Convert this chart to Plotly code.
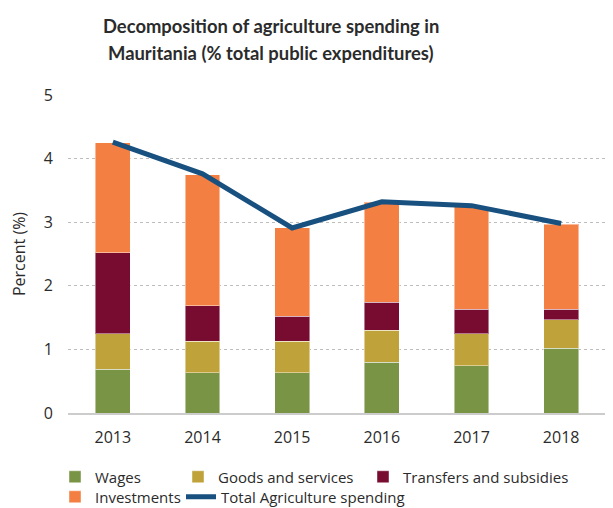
import plotly.graph_objects as go

years = ["2013", "2014", "2015", "2016", "2017", "2018"]
wages = [0.69, 0.63, 0.63, 0.80, 0.74, 1.02]
goods = [0.56, 0.50, 0.50, 0.50, 0.51, 0.45]
transfers = [1.27, 0.56, 0.39, 0.44, 0.38, 0.16]
investments = [1.73, 2.06, 1.39, 1.57, 1.61, 1.34]
total = [4.26, 3.76, 2.91, 3.32, 3.26, 2.98]
y_ticks = [0, 1, 2, 3, 4, 5]
title_lines = ["Decomposition of agriculture spending in",
               "Mauritania (% total public expenditures)"]

TFONT = "Lato"
FONT = "Open Sans"
TXT = "#2b2b2b"
W, H = 613, 508
OFF = 8  # page body offset
# plot area in page pixels
PL, PR, PT, PB = 68, 606, 95, 413
ML, MT = PL - OFF, PT - OFF
MR = W - (PR - OFF)
MB = H - (PB - OFF)

fig = go.Figure()
bar_line = dict(width=1, color="rgba(255,255,255,0.45)")
fig.add_bar(x=years, y=wages, name="Wages", marker=dict(color="#7A9445", line=bar_line), legend="legend")
fig.add_bar(x=years, y=goods, name="Goods and services", marker=dict(color="#BFA23A", line=bar_line), legend="legend2")
fig.add_bar(x=years, y=transfers, name="Transfers and subsidies", marker=dict(color="#770C30", line=bar_line), legend="legend3")
fig.add_bar(x=years, y=investments, name="Investments", marker=dict(color="#F47F42", line=bar_line), legend="legend4")
fig.add_scatter(x=years, y=total, name="Total Agriculture spending", mode="lines",
                line=dict(color="#18507F", width=5), legend="legend5")

def leg(xpx, ypx):
    return dict(x=xpx / W, y=1 - ypx / H, xref="container", yref="container",
                xanchor="left", yanchor="middle", orientation="h",
                font=dict(family=FONT, size=15, color=TXT), bgcolor="rgba(0,0,0,0)",
                borderwidth=0, itemwidth=30, tracegroupgap=0)

pw = PR - PL
ph = PB - PT
annotations = []
for txt, ypx in zip(title_lines, [26, 53]):
    annotations.append(dict(text="<b>" + txt + "</b>", xref="paper", yref="paper",
                            x=(271 - PL) / pw, y=(PB - ypx) / ph,
                            xanchor="center", yanchor="middle", showarrow=False,
                            font=dict(family=TFONT, size=18.4, color=TXT)))

fig.update_layout(
    width=W, height=H,
    margin=dict(l=ML, r=MR, t=MT, b=MB, autoexpand=False),
    paper_bgcolor="white", plot_bgcolor="white",
    barmode="stack", bargap=0.61,
    annotations=annotations,
    font=dict(family=FONT, size=16, color=TXT),
    xaxis=dict(showline=True, linecolor="#cccccc", linewidth=2, showgrid=False,
               tickfont=dict(family=FONT, size=16, color=TXT), ticklabelstandoff=9),
    yaxis=dict(range=[0, 5], tickvals=y_ticks, showgrid=True, gridcolor="#bdbdbd",
               griddash="dot", gridwidth=1, zeroline=False, showline=False,
               tickfont=dict(family=FONT, size=16, color=TXT), ticklabelstandoff=14,
               title=dict(text="Percent (%)", font=dict(family=FONT, size=16, color=TXT), standoff=18)),
    showlegend=True,
    legend=leg(47, 469),
    legend2=leg(170, 469),
    legend3=leg(355, 469),
    legend4=leg(47, 489),
    legend5=leg(173, 489),
)

fig.write_html("out.html")
